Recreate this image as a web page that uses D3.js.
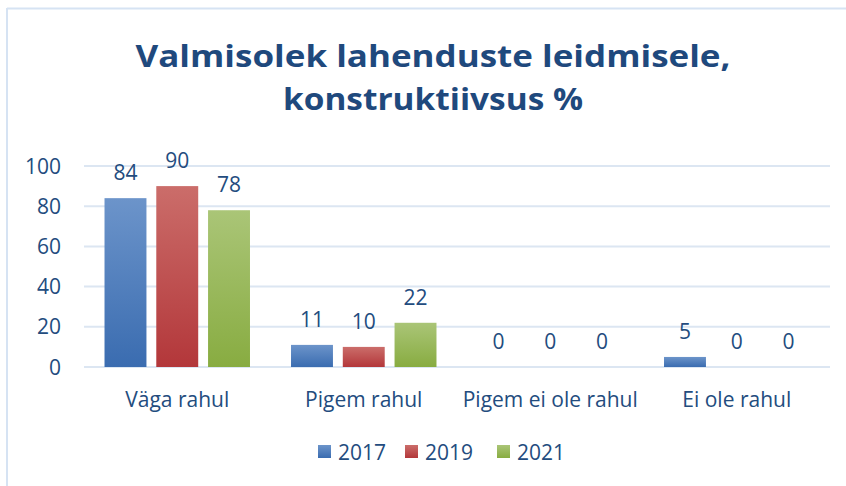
<!DOCTYPE html>
<html><head><meta charset="utf-8">
<script src="https://cdn.jsdelivr.net/npm/d3@7"></script>
<style>html,body{margin:0;padding:0;background:#fff;}svg{display:block;}</style>
</head><body>
<svg id="c" width="846" height="486"></svg>
<script>
const categories = ["Väga rahul", "Pigem rahul", "Pigem ei ole rahul", "Ei ole rahul"];
const seriesNames = ["2017", "2019", "2021"];
const values2017 = [84, 11, 0, 5];
const values2019 = [90, 10, 0, 0];
const values2021 = [78, 22, 0, 0];
const yTicks = [0, 20, 40, 60, 80, 100];
const titleLines = ["Valmisolek lahenduste leidmisele,", "konstruktiivsus %"];

(function () {
const series = [values2017, values2019, values2021];
const colors = [["#6C94CA", "#3A6CB0"], ["#CB6D6A", "#B3373A"], ["#AAC577", "#88AC41"]];
const textColor = "#234C7E";
const font = "'Open Sans', 'Noto Sans', sans-serif";
const fs = 21;

const svg = d3.select("#c");
const defs = svg.append("defs");
colors.forEach((c, i) => {
  const g = defs.append("linearGradient").attr("id", "g" + i).attr("x1", 0).attr("y1", 0).attr("x2", 0).attr("y2", 1);
  g.append("stop").attr("offset", "0%").attr("stop-color", c[0]);
  g.append("stop").attr("offset", "100%").attr("stop-color", c[1]);
});

// frame
svg.append("line").attr("x1", 7).attr("x2", 846).attr("y1", 8.5).attr("y2", 8.5).attr("stroke", "#D6E3F3").attr("stroke-width", 2);
svg.append("line").attr("x1", 7).attr("x2", 7).attr("y1", 8).attr("y2", 486).attr("stroke", "#D6E3F3").attr("stroke-width", 2);

const pLeft = 84, pRight = 830, pTop = 166, pBottom = 367;
const x0 = d3.scaleBand().domain(categories).range([pLeft, pRight]).paddingInner(0.22).paddingOuter(0.11);
const x1 = d3.scaleBand().domain(seriesNames).range([0, x0.bandwidth()]).paddingInner(0.19);
const y = d3.scaleLinear().domain([0, 100]).range([pBottom, pTop]);

// title
titleLines.forEach((t, i) => {
  svg.append("text").attr("x", 433).attr("y", i === 0 ? 67 : 110)
    .attr("text-anchor", "middle").attr("font-family", font).attr("font-weight", "bold")
    .attr("font-size", 31).attr("fill", "#1F497D")
    .attr("textLength", i === 0 ? 595 : 300).attr("lengthAdjust", "spacingAndGlyphs")
    .text(t);
});

// gridlines
svg.append("g").selectAll("line").data(yTicks).join("line")
  .attr("x1", pLeft).attr("x2", pRight).attr("y1", d => y(d)).attr("y2", d => y(d))
  .attr("stroke", "#DCE6F2").attr("stroke-width", 2);

// y axis labels
const yAxis = d3.axisLeft(y).tickValues(yTicks).tickSize(0).tickPadding(0);
const ya = svg.append("g").attr("transform", `translate(61,0)`).call(yAxis);
ya.select(".domain").remove();
ya.selectAll("text").attr("font-family", font).attr("font-size", fs).attr("fill", textColor).attr("dy", "0.34em");

// bars
const groups = svg.append("g").selectAll("g").data(categories).join("g")
  .attr("transform", d => `translate(${x0(d)},0)`);
groups.each(function(cat, ci) {
  const g = d3.select(this);
  seriesNames.forEach((s, si) => {
    const v = series[si][ci];
    g.append("rect").attr("x", x1(s)).attr("width", x1.bandwidth())
      .attr("y", y(v)).attr("height", pBottom - y(v)).attr("fill", `url(#g${si})`);
    g.append("text").attr("x", x1(s) + x1.bandwidth() / 2).attr("y", y(v) - 18)
      .attr("text-anchor", "middle").attr("font-family", font).attr("font-size", fs)
      .attr("fill", textColor).text(v);
  });
});

// x axis labels
const xAxis = d3.axisBottom(x0).tickSize(0).tickPadding(0);
const xa = svg.append("g").attr("transform", `translate(0,${pBottom})`).call(xAxis);
xa.select(".domain").remove();
xa.selectAll("text").attr("font-family", font).attr("font-size", fs).attr("fill", textColor).attr("dy", 0).attr("y", 40);

// legend
const legendX = [318, 405, 497];
const lg = svg.append("g").selectAll("g").data(seriesNames).join("g")
  .attr("transform", (d, i) => `translate(${legendX[i]},445)`);
lg.append("rect").attr("width", 13).attr("height", 13).attr("fill", (d, i) => `url(#g${i})`);
lg.append("text").attr("x", 20).attr("y", 14.5).attr("font-family", font).attr("font-size", fs).attr("fill", textColor).text(d => d);
})();
</script>
</body></html>
